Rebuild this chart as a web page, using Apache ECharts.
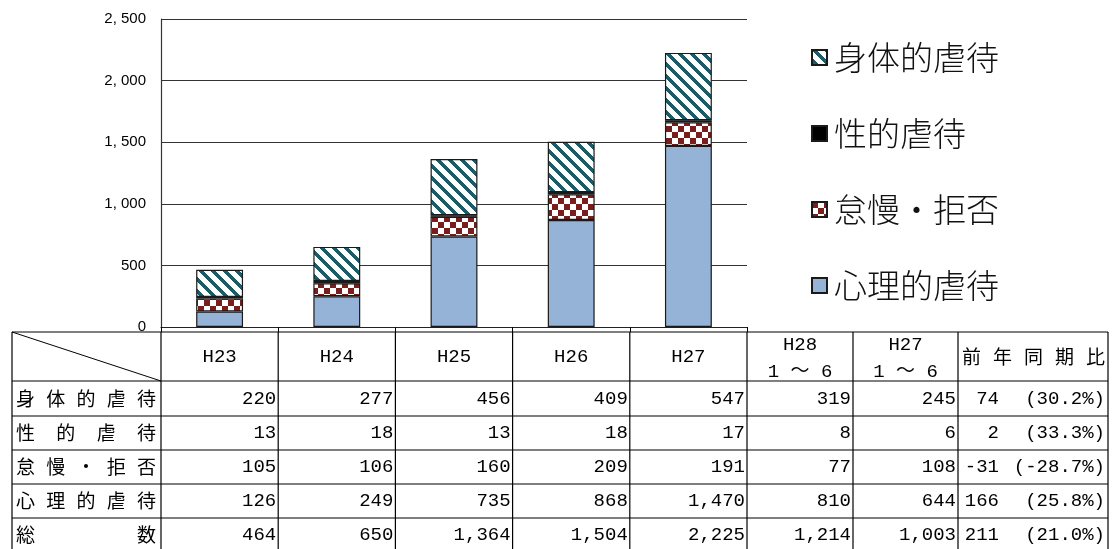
<!DOCTYPE html>
<html>
<head>
<meta charset="utf-8">
<script src="https://cdn.jsdelivr.net/npm/echarts@6/dist/echarts.min.js"></script>
<style>
html, body { margin: 0; padding: 0; background: #fff; }
#main { width: 1117px; height: 549px; }
</style>
</head>
<body>
<div id="main"></div>
<script>
// 年度
var categories = ["H23", "H24", "H25", "H26", "H27"];
// 種別ごとの件数
var physical = [220, 277, 456, 409, 547];
var sexual = [13, 18, 13, 18, 17];
var neglect = [105, 106, 160, 209, 191];
var psych = [126, 249, 735, 868, 1470];
var totals = [464, 650, 1364, 1504, 2225];
// 上半期（1～6月）と前年同期比
var h28Half = [319, 8, 77, 810, 1214];
var h27Half = [245, 6, 108, 644, 1003];
var diffVals = [74, 2, -31, 166, 211];
var diffPct = ["30.2%", "33.3%", "-28.7%", "25.8%", "21.0%"];
var rowLabels = ["身体的虐待", "性的虐待", "怠慢・拒否", "心理的虐待", "総数"];

var chart = echarts.init(document.getElementById("main"));

// 模様（斜線・市松）
function makePattern(size, fg, test) {
  var c = document.createElement("canvas");
  c.width = c.height = size;
  var ctx = c.getContext("2d");
  ctx.fillStyle = "#fff";
  ctx.fillRect(0, 0, size, size);
  ctx.fillStyle = fg;
  for (var y = 0; y < size; y++) {
    for (var x = 0; x < size; x++) {
      if (test(x, y)) ctx.fillRect(x, y, 1, 1);
    }
  }
  return { image: c, repeat: "repeat" };
}
var stripe = makePattern(12, "#1d5b67", function (x, y) {
  return ((x - y) % 12 + 12) % 12 < 5;
});
var checker = makePattern(12, "#7a1d1d", function (x, y) {
  return (Math.floor(x / 6) + Math.floor(y / 6)) % 2 === 0;
});

function barSeries(name, data, color) {
  return {
    name: name,
    type: "bar",
    stack: "total",
    data: data,
    barWidth: "40%",
    itemStyle: { color: color, borderColor: "#1a1a1a", borderWidth: 1.2 },
    emphasis: { disabled: true }
  };
}

function yFmt(v) {
  if (v < 1000) return String(v);
  return Math.floor(v / 1000) + ", " + String(v % 1000).padStart(3, "0");
}

var option = {
  animation: false,
  backgroundColor: "#fff",
  grid: { left: 161, right: 370, top: 19, bottom: 222 },
  legend: {
    orient: "vertical",
    left: 806,
    top: 36,
    itemGap: 43,
    itemWidth: 15,
    itemHeight: 15,
    icon: "rect",
    data: ["身体的虐待", "性的虐待", "怠慢・拒否", "心理的虐待"],
    textStyle: {
      fontSize: 33,
      fontWeight: 300,
      fontFamily: "Noto Sans CJK JP",
      color: "#111",
      padding: [0, 0, 0, 2]
    },
    selectedMode: false
  },
  xAxis: {
    type: "category",
    data: categories,
    axisLine: { lineStyle: { color: "#222", width: 1.2 } },
    axisTick: { show: true, length: 5, interval: 0, lineStyle: { color: "#000" } },
    axisLabel: { show: false }
  },
  yAxis: {
    type: "value",
    min: 0,
    max: 2500,
    interval: 500,
    axisLine: { show: true, lineStyle: { color: "#333", width: 1.2 } },
    axisTick: { show: false },
    splitLine: { lineStyle: { color: "#333", width: 1.2 } },
    axisLabel: {
      margin: 15,
      fontSize: 15,
      fontFamily: "Liberation Sans",
      color: "#000",
      formatter: yFmt
    }
  },
  series: [
    barSeries("心理的虐待", psych, "#95b3d7"),
    barSeries("怠慢・拒否", neglect, checker),
    barSeries("性的虐待", sexual, "#000"),
    barSeries("身体的虐待", physical, stripe)
  ]
};
chart.setOption(option);

// ---- 表 ----
var c0 = chart.convertToPixel({ xAxisIndex: 0 }, 0);
var c1 = chart.convertToPixel({ xAxisIndex: 0 }, 1);
var band = c1 - c0;
var colEdges = [12];
for (var i = 0; i <= categories.length; i++) colEdges.push(c0 - band / 2 + band * i);
var lastCat = colEdges[colEdges.length - 1];
colEdges.push(lastCat + 106, lastCat + 211, lastCat + 361);
var rowEdges = [332, 381, 416, 450, 484, 518, 552];

var tableFont = '19px "Liberation Mono", "Noto Sans CJK JP", monospace';
var cjkFont = '19px "Noto Sans CJK JP"';
var els = [];

function line(x1, y1, x2, y2, w) {
  els.push({
    type: "line",
    shape: { x1: x1, y1: y1, x2: x2, y2: y2 },
    style: { stroke: "#000", lineWidth: w || 1.2 },
    silent: true
  });
}
function text(str, x, y, align, font) {
  els.push({
    type: "text",
    style: {
      text: str, x: x, y: y,
      align: align, textAlign: align,
      verticalAlign: "middle", textVerticalAlign: "middle",
      font: font || tableFont, fill: "#000"
    },
    silent: true
  });
}
function spread(str, left, right, y) {
  var chars = str.split("");
  var w = 19;
  var n = chars.length;
  for (var k = 0; k < n; k++) {
    var cx = left + w / 2 + (n > 1 ? k * (right - left - w) / (n - 1) : 0);
    text(chars[k], cx, y, "center", cjkFont);
  }
}

var right = colEdges[colEdges.length - 1];
rowEdges.forEach(function (y) { line(colEdges[0], y, right, y); });
colEdges.forEach(function (x) { line(x, rowEdges[0], x, rowEdges[rowEdges.length - 1]); });
line(colEdges[0], rowEdges[0], colEdges[1], rowEdges[1], 1);

var hy = (rowEdges[0] + rowEdges[1]) / 2;
categories.forEach(function (c, i) {
  text(c, (colEdges[i + 1] + colEdges[i + 2]) / 2, hy, "center");
});
var ci = categories.length + 1;
text("H28", (colEdges[ci] + colEdges[ci + 1]) / 2, 345, "center");
text("1 ～ 6", (colEdges[ci] + colEdges[ci + 1]) / 2, 372, "center");
text("H27", (colEdges[ci + 1] + colEdges[ci + 2]) / 2, 345, "center");
text("1 ～ 6", (colEdges[ci + 1] + colEdges[ci + 2]) / 2, 372, "center");
spread("前年同期比", colEdges[ci + 2] + 4, right - 3, hy);

var rows = [physical, sexual, neglect, psych, totals];
function fmt(n) { return n.toLocaleString("en-US"); }
rows.forEach(function (vals, r) {
  var y = (rowEdges[r + 1] + rowEdges[r + 2]) / 2;
  spread(rowLabels[r], colEdges[0] + 4, colEdges[1] - 5, y);
  vals.forEach(function (v, i) {
    text(fmt(v), colEdges[i + 2] - 2, y, "right");
  });
  text(fmt(h28Half[r]), colEdges[ci + 1] - 2, y, "right");
  text(fmt(h27Half[r]), colEdges[ci + 2] - 2, y, "right");
  text(String(diffVals[r]), colEdges[ci + 2] + 41, y, "right");
  text("(" + diffPct[r] + ")", right - 3, y, "right");
});

chart.setOption({ graphic: { elements: els } });
</script>
</body>
</html>
